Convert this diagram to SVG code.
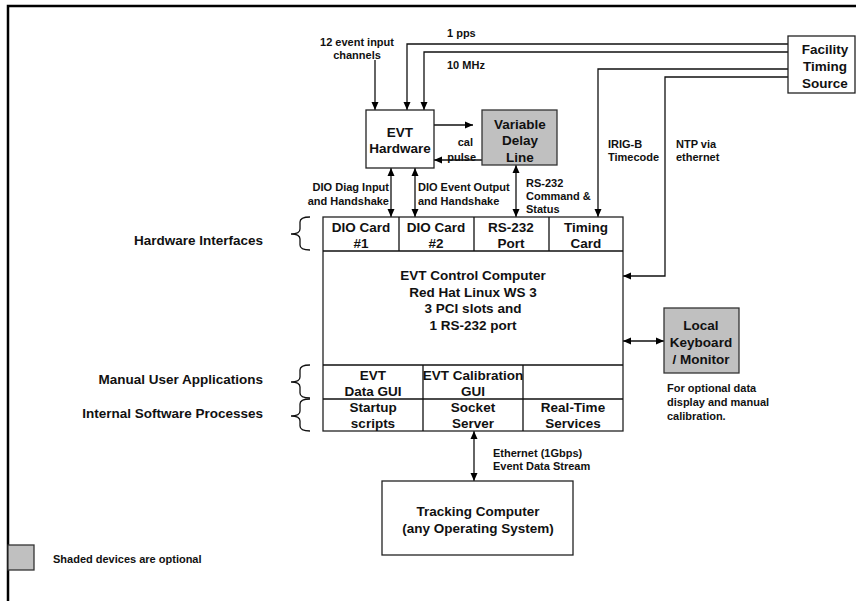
<svg xmlns="http://www.w3.org/2000/svg" width="856" height="601" viewBox="0 0 856 601">
<defs>
<marker id="ah" markerUnits="userSpaceOnUse" markerWidth="9" markerHeight="8" refX="8" refY="4" orient="auto-start-reverse"><path d="M0,0.5 L8,4 L0,7.5 z" fill="#000"/></marker>
<style>
text{font-family:"Liberation Sans",Arial,sans-serif;font-weight:bold;fill:#111}
.b{font-size:13.5px;text-anchor:middle}
.s{font-size:11px}
.l{font-size:13.5px;text-anchor:end}
.box{fill:#fff;stroke:#222;stroke-width:1.3}
.opt{fill:#c0c0c0;stroke:#333;stroke-width:1.3}
.ln{fill:none;stroke:#111;stroke-width:1.3}
.ar{fill:none;stroke:#111;stroke-width:1.3;marker-end:url(#ah)}
.dar{fill:none;stroke:#111;stroke-width:1.3;marker-end:url(#ah);marker-start:url(#ah)}
</style>
</defs>
<rect width="856" height="601" fill="#fff"/>
<path d="M8,601 L8,6 L856,6" fill="none" stroke="#000" stroke-width="2.5"/>

<g id="connectors">
<path class="ar" d="M375,60 L375,110"/>
<path class="ar" d="M788,44 L407,44 L407,110"/>
<path class="ar" d="M788,52 L424,52 L424,110"/>
<path class="ar" d="M788,69 L598,69 L598,217"/>
<path class="ar" d="M788,77 L665,77 L665,276 L623,276"/>
<path class="ar" d="M434,125 L473,125"/>
<path class="ar" d="M482,160 L434,160"/>
<path class="dar" d="M391,168 L391,217"/>
<path class="dar" d="M415,168 L415,217"/>
<path class="dar" d="M516,165 L516,217"/>
<path class="dar" d="M623,341 L664,341"/>
<path class="dar" d="M474,431 L474,481"/>
</g>

<g id="labels">
<text class="s" x="357" y="46" text-anchor="middle">12 event input</text>
<text class="s" x="357" y="59" text-anchor="middle">channels</text>
<text class="s" x="447" y="37">1 pps</text>
<text class="s" x="447" y="69">10 MHz</text>
<text class="s" x="608" y="148">IRIG-B</text>
<text class="s" x="608" y="161">Timecode</text>
<text class="s" x="676" y="148">NTP via</text>
<text class="s" x="676" y="161">ethernet</text>
<text class="s" x="473" y="146" text-anchor="end">cal</text>
<text class="s" x="476" y="161" text-anchor="end">pulse</text>
<text class="s" x="389" y="191" text-anchor="end">DIO Diag Input</text>
<text class="s" x="389" y="205" text-anchor="end">and Handshake</text>
<text class="s" x="418" y="191">DIO Event Output</text>
<text class="s" x="418" y="205">and Handshake</text>
<text class="s" x="526" y="187">RS-232</text>
<text class="s" x="526" y="200">Command &amp;</text>
<text class="s" x="526" y="213">Status</text>
<text class="s" x="493" y="457">Ethernet (1Gbps)</text>
<text class="s" x="493" y="470">Event Data Stream</text>
<text class="s" x="667" y="392">For optional data</text>
<text class="s" x="667" y="406">display and manual</text>
<text class="s" x="667" y="420">calibration.</text>
<text class="l" x="263" y="245">Hardware Interfaces</text>
<text class="l" x="263" y="384">Manual User Applications</text>
<text class="l" x="263" y="418">Internal Software Processes</text>
<path class="ln" d="M310,217 Q300,217 300,222 L300,229 Q300,234 291,234 Q300,234 300,239 L300,245 Q300,250 310,250"/>
<path class="ln" d="M310,365 Q300,365 300,370 L300,377 Q300,382 291,382 Q300,382 300,387 L300,393 Q300,398 310,398"/>
<path class="ln" d="M310,399 Q300,399 300,404 L300,411 Q300,416 291,416 Q300,416 300,421 L300,426 Q300,431 310,431"/>
</g>

<g id="facility">
<rect class="box" x="788" y="36" width="67" height="57"/>
<text class="b" x="825" y="54">Facility</text>
<text class="b" x="825" y="71">Timing</text>
<text class="b" x="825" y="88">Source</text>
</g>

<g id="evt-hardware">
<rect class="box" x="366" y="110" width="68" height="58"/>
<text class="b" x="400" y="137">EVT</text>
<text class="b" x="400" y="153">Hardware</text>
</g>

<g id="delay-line">
<rect class="opt" x="482" y="110" width="75" height="55"/>
<text class="b" x="520" y="129">Variable</text>
<text class="b" x="520" y="145">Delay</text>
<text class="b" x="520" y="162">Line</text>
</g>

<g id="control-computer">
<rect class="box" x="323" y="217" width="300" height="214"/>
<path class="ln" d="M323,251 H623 M323,365 H623 M323,399 H623 M399,217 V251 M474,217 V251 M549,217 V251 M423,365 V431 M523,365 V431"/>
<text class="b" x="361" y="232">DIO Card</text>
<text class="b" x="361" y="248">#1</text>
<text class="b" x="436" y="232">DIO Card</text>
<text class="b" x="436" y="248">#2</text>
<text class="b" x="511" y="232">RS-232</text>
<text class="b" x="511" y="248">Port</text>
<text class="b" x="586" y="232">Timing</text>
<text class="b" x="586" y="248">Card</text>
<text class="b" x="473" y="280">EVT Control Computer</text>
<text class="b" x="473" y="297">Red Hat Linux WS 3</text>
<text class="b" x="473" y="313">3 PCI slots and</text>
<text class="b" x="473" y="330">1 RS-232 port</text>
<text class="b" x="373" y="380">EVT</text>
<text class="b" x="373" y="396">Data GUI</text>
<text class="b" x="473" y="380">EVT Calibration</text>
<text class="b" x="473" y="396">GUI</text>
<text class="b" x="373" y="412">Startup</text>
<text class="b" x="373" y="428">scripts</text>
<text class="b" x="473" y="412">Socket</text>
<text class="b" x="473" y="428">Server</text>
<text class="b" x="573" y="412">Real-Time</text>
<text class="b" x="573" y="428">Services</text>
</g>

<g id="keyboard">
<rect class="opt" x="664" y="308" width="75" height="65"/>
<text class="b" x="701" y="330">Local</text>
<text class="b" x="701" y="347">Keyboard</text>
<text class="b" x="701" y="364">/ Monitor</text>
</g>

<g id="tracking">
<rect class="box" x="382" y="481" width="191" height="74"/>
<text class="b" x="478" y="516">Tracking Computer</text>
<text class="b" x="478" y="533">(any Operating System)</text>
</g>

<g id="legend">
<rect class="opt" x="8" y="545" width="26" height="25"/>
<text class="s" x="53" y="563">Shaded devices are optional</text>
</g>
</svg>
